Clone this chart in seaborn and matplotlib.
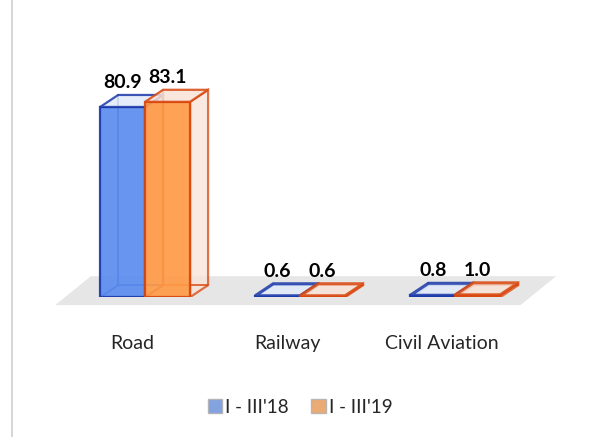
import matplotlib.pyplot as plt
from matplotlib.patches import Polygon
from matplotlib.lines import Line2D
from matplotlib.transforms import ScaledTranslation
import seaborn as sns
import pandas as pd

modes = ['Road', 'Railway', 'Civil Aviation']
periods = ["I - III'18", "I - III'19"]
share_18 = [80.9, 0.6, 0.8]
share_19 = [83.1, 0.6, 1.0]

face_colors = ['#5A8CEE', '#FF9A46']
edge_colors = ['#1B39A8', '#D8460E']
side_colors = ['#E2EAFA', '#F8E2D6']

sns.set_style('white')
plt.rcParams['font.family'] = ['Lato', 'DejaVu Sans']

df = pd.DataFrame({
    'mode': modes * 2,
    'period': [periods[0]] * 3 + [periods[1]] * 3,
    'share': share_18 + share_19,
})

fig = plt.figure(figsize=(5.98, 4.37), dpi=100)
ax = fig.add_axes([0.113, 0.320, 0.778, 0.538])

sns.barplot(data=df, x='mode', y='share', hue='period', palette=face_colors,
            width=0.58, ax=ax, zorder=3)

ax.set_xlim(-0.5, 2.5)
ax.set_ylim(0, 100)

# depth of the 3d boxes in data units
dx, dy = 0.116, 5.1

# floor
floor = Polygon([(-0.58, -3.4), (2.42, -3.4), (2.65, 8.9), (-0.35, 8.9)],
                closed=True, facecolor='#E6E6E6', edgecolor='none',
                zorder=0, clip_on=False)
ax.add_patch(floor)

for i, cont in enumerate(ax.containers):
    z = 2 + 2 * i
    for bar in cont:
        x0 = bar.get_x()
        w = bar.get_width()
        h = bar.get_height()
        x1 = x0 + w
        bar.set_facecolor(face_colors[i])
        bar.set_alpha(0.92)
        bar.set_edgecolor(edge_colors[i])
        bar.set_linewidth(1.6)
        bar.set_zorder(z + 1)
        # side face
        side = Polygon([(x1, 0), (x1 + dx, dy), (x1 + dx, h + dy), (x1, h)],
                       closed=True, facecolor=side_colors[i], alpha=0.75,
                       edgecolor=edge_colors[i], linewidth=1.6, zorder=z)
        ax.add_patch(side)
        # top face
        top = Polygon([(x0, h), (x0 + dx, h + dy), (x1 + dx, h + dy), (x1, h)],
                      closed=True, facecolor=side_colors[i], alpha=0.85,
                      edgecolor=edge_colors[i], linewidth=2.2 if h < 5 else 1.6,
                      zorder=z + 1.5)
        ax.add_patch(top)
        # hidden back edges
        ax.plot([x0 + dx, x0 + dx, x1 + dx], [h + dy, dy, dy],
                color=edge_colors[i], lw=1.1, zorder=z)
        ax.plot([x0, x0 + dx], [0, dy], color=edge_colors[i], lw=1.1, zorder=z)
        ax.annotate(f'{h:.1f}', (x0 + w / 2, h + dy), xytext=(0, 3),
                    textcoords='offset points', ha='center', va='bottom',
                    fontsize=14, fontweight='bold', color='black',
                    zorder=10)

for s in ax.spines.values():
    s.set_visible(False)
ax.set_yticks([])
ax.set_xlabel('')
ax.set_ylabel('')
ax.tick_params(axis='x', length=0, pad=27, labelsize=14)
shift = ScaledTranslation(-13 / 100, 0, fig.dpi_scale_trans)
for lab in ax.get_xticklabels():
    lab.set_transform(lab.get_transform() + shift)

leg = ax.legend(loc='center', bbox_to_anchor=(0.5, -0.468), ncol=2,
                frameon=False, fontsize=13.5, handlelength=0.75,
                handleheight=0.75, handletextpad=0.2, columnspacing=1.2)
for hnd in leg.legend_handles:
    hnd.set_edgecolor('#B0B0B0')
    hnd.set_alpha(0.85)

fig.add_artist(Line2D([0.02, 0.02], [0, 1], color='#D0D0D0', lw=1.2,
                      transform=fig.transFigure))

fig.savefig('out.png', dpi=100)
